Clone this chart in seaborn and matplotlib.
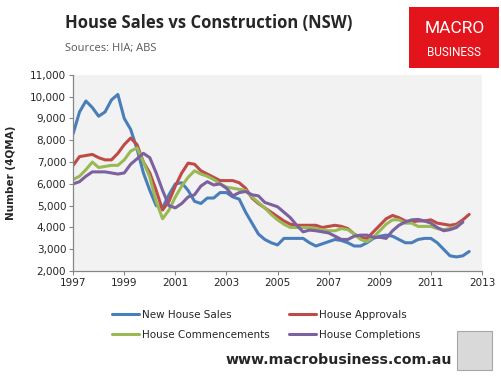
import numpy as np
import pandas as pd
import matplotlib
matplotlib.use("Agg")
import matplotlib.pyplot as plt
import seaborn as sns
from matplotlib.patches import Rectangle

# quarterly, 4 quarter moving average, 1997 Q1 .. 2012 Q3
quarters = 1997 + np.arange(63) * 0.25

new_house_sales = [
    8300, 9300, 9800, 9500, 9100, 9300, 9850, 10100,
    9000, 8500, 7600, 6500, 5700, 5000, 4900, 5500,
    6000, 6050, 5700, 5200, 5100, 5350, 5350, 5600,
    5600, 5400, 5300, 4700, 4200, 3700, 3450, 3300,
    3200, 3500, 3500, 3500, 3500, 3300, 3150, 3250,
    3350, 3450, 3400, 3300, 3150, 3150, 3300, 3500,
    3600, 3650, 3600, 3450, 3300, 3300, 3450, 3500,
    3500, 3300, 3000, 2700, 2650, 2700, 2900,
]
house_approvals = [
    6850, 7250, 7300, 7350, 7200, 7100, 7100, 7400,
    7800, 8100, 7800, 7000, 6500, 5700, 4800, 5200,
    5900, 6500, 6950, 6900, 6600, 6450, 6300, 6150,
    6150, 6150, 6050, 5800, 5350, 5100, 4900, 4700,
    4500, 4300, 4150, 4100, 4100, 4100, 4100, 4000,
    4050, 4100, 4050, 3950, 3700, 3550, 3500, 3800,
    4100, 4400, 4550, 4450, 4300, 4250, 4300, 4300,
    4350, 4200, 4150, 4100, 4150, 4350, 4600,
]
house_commencements = [
    6200, 6350, 6650, 7000, 6750, 6800, 6850, 6850,
    7100, 7500, 7650, 7000, 6300, 5200, 4400, 4800,
    5400, 5900, 6300, 6600, 6450, 6350, 6200, 6000,
    5850, 5800, 5750, 5700, 5400, 5150, 4900, 4600,
    4350, 4150, 4000, 4000, 4000, 4000, 3950, 3900,
    3850, 3850, 3950, 3900, 3700, 3450, 3350, 3550,
    3850, 4150, 4350, 4350, 4200, 4200, 4050, 4050,
    4050, 3950, 3900, 3950, 4050, 4250, np.nan,
]
house_completions = [
    6000, 6100, 6350, 6550, 6550, 6550, 6500, 6450,
    6500, 6900, 7150, 7400, 7200, 6500, 5700, 5000,
    4900, 5100, 5400, 5500, 5900, 6100, 5950, 6000,
    5800, 5450, 5600, 5650, 5500, 5450, 5150, 5050,
    4950, 4700, 4450, 4100, 3800, 3880, 3850, 3800,
    3750, 3600, 3450, 3450, 3600, 3650, 3650, 3550,
    3550, 3500, 3850, 4100, 4250, 4350, 4370, 4300,
    4200, 4000, 3850, 3900, 4000, 4250, np.nan,
]

series_names = ["New House Sales", "House Approvals",
                "House Commencements", "House Completions"]
colors = ["#4A7EBB", "#BE4B48", "#98B954", "#7D60A0"]
year_ticks = list(range(1997, 2014, 2))
y_ticks = list(range(2000, 11001, 1000))

df = pd.DataFrame({
    "date": np.tile(quarters, 4),
    "value": np.concatenate([new_house_sales, house_approvals,
                             house_commencements, house_completions]),
    "series": np.repeat(series_names, len(quarters)),
})

sns.set_style("white")
plt.rcParams["font.family"] = ["DejaVu Sans"]

fig = plt.figure(figsize=(5.01, 3.76), dpi=100)
ax = fig.add_axes([0.146, 0.279, 0.816, 0.522])
ax.set_facecolor("#F2F2F2")

sns.lineplot(data=df, x="date", y="value", hue="series",
             hue_order=series_names, palette=colors, linewidth=2.2,
             ax=ax, legend=False)

ax.set_xlim(1997, 2013)
ax.set_ylim(2000, 11000)
ax.set_xticks(year_ticks)
ax.set_xticklabels([str(y) for y in year_ticks], fontsize=7.5)
ax.set_yticks(y_ticks)
ax.set_yticklabels([f"{v:,}" for v in y_ticks], fontsize=7.5)
ax.set_xlabel("")
ax.set_ylabel("Number (4QMA)", fontsize=7.5, fontweight="bold", labelpad=10)
ax.tick_params(axis="both", direction="out", length=3, width=0.8,
               color="#868686", pad=2, left=True, bottom=True)
for side in ["top", "right"]:
    ax.spines[side].set_visible(False)
for side in ["left", "bottom"]:
    ax.spines[side].set_color("#868686")
    ax.spines[side].set_linewidth(0.9)

# legend below the plot, row-wise order (matplotlib fills by column)
order = [0, 2, 1, 3]
handles = [plt.Line2D([], [], color=colors[i], linewidth=2.2) for i in order]
fig.legend(handles, [series_names[i] for i in order], loc="upper left", ncol=2,
           bbox_to_anchor=(0.215, 0.187), frameon=False, fontsize=7.5,
           handlelength=2.6, handletextpad=0.3, columnspacing=1.8,
           labelspacing=0.95, borderaxespad=0)

# titles
fig.text(0.13, 0.94, "House Sales vs Construction (NSW)", fontsize=12,
         fontweight="bold", family="Open Sans", va="center", ha="left")
fig.text(0.13, 0.872, "Sources: HIA; ABS", fontsize=8, color="#595959",
         family="Open Sans", va="center", ha="left")

# logo box
fig.patches.append(Rectangle((0.817, 0.82), 0.18, 0.162, transform=fig.transFigure,
                             facecolor="#E3141B", edgecolor="none"))
fig.text(0.907, 0.925, "MACRO", color="white", fontsize=12.5,
         ha="center", va="center", family="Roboto")
fig.text(0.907, 0.86, "BUSINESS", color="white", fontsize=8.5,
         ha="center", va="center", family="Roboto")

# footer
fig.text(0.902, 0.042, "www.macrobusiness.com.au", fontsize=10.2,
         fontweight="bold", ha="right", va="center")
fig.patches.append(Rectangle((0.913, 0.015), 0.07, 0.105, transform=fig.transFigure,
                             facecolor="#D9D9D9", edgecolor="#A6A6A6", linewidth=0.8))

fig.savefig("out.png", dpi=100)
